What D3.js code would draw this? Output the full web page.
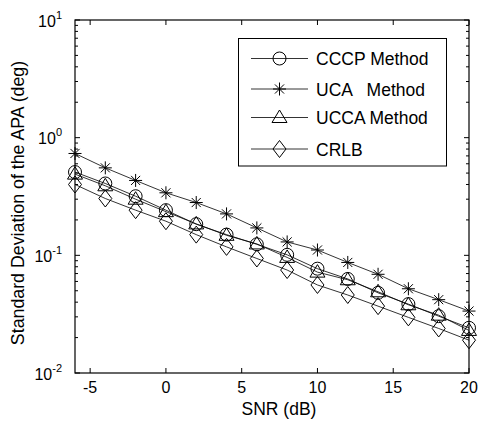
<!DOCTYPE html>
<html>
<head>
<meta charset="utf-8">
<script src="https://cdn.jsdelivr.net/npm/d3@7"></script>
<style>
  body { margin: 0; background: #fff; }
  svg { font-family: Arial, "Liberation Sans", sans-serif; }
</style>
</head>
<body>
<svg id="chart" width="482" height="426"></svg>
<script>
// data
const snr = [-6, -4, -2, 0, 2, 4, 6, 8, 10, 12, 14, 16, 18, 20];
const cccp = [0.51, 0.408, 0.318, 0.242, 0.184, 0.150, 0.124, 0.101, 0.077, 0.063, 0.048, 0.0385, 0.0304, 0.0242];
const uca = [0.734, 0.554, 0.433, 0.34, 0.281, 0.225, 0.171, 0.130, 0.111, 0.087, 0.069, 0.052, 0.042, 0.0336];
const ucca = [0.49, 0.39, 0.30, 0.235, 0.185, 0.148, 0.125, 0.096, 0.072, 0.062, 0.049, 0.038, 0.031, 0.023];
const crlb = [0.40, 0.304, 0.242, 0.195, 0.150, 0.118, 0.094, 0.075, 0.056, 0.046, 0.037, 0.0297, 0.0239, 0.019];
const seriesNames = ["CCCP Method", "UCA   Method", "UCCA Method", "CRLB"];
const markers = ["circle", "star", "triangle", "diamond"];
const xTicks = [-5, 0, 5, 10, 15, 20];
const yTicks = [0.01, 0.1, 1, 10];

const margin = { top: 20, right: 13, bottom: 53, left: 75 };
const W = 482, H = 426;
const svg = d3.select("#chart");

const x = d3.scaleLinear().domain([-6, 20]).range([margin.left, W - margin.right]);
const y = d3.scaleLog().domain([0.01, 10]).range([H - margin.bottom, margin.top]);

const x0 = x.range()[0], x1 = x.range()[1], y0 = y.range()[0], y1 = y.range()[1];

// minor log ticks
const minor = [];
[0.01, 0.1, 1].forEach(d => { for (let k = 2; k <= 9; k++) minor.push(d * k); });

const tk = svg.append("g").attr("stroke", "#000").attr("stroke-width", 1);
xTicks.forEach(v => {
  tk.append("line").attr("x1", x(v)).attr("x2", x(v)).attr("y1", y0).attr("y2", y0 - 5);
  tk.append("line").attr("x1", x(v)).attr("x2", x(v)).attr("y1", y1).attr("y2", y1 + 5);
});
yTicks.forEach(v => {
  tk.append("line").attr("x1", x0).attr("x2", x0 + 5).attr("y1", y(v)).attr("y2", y(v));
  tk.append("line").attr("x1", x1).attr("x2", x1 - 5).attr("y1", y(v)).attr("y2", y(v));
});
minor.forEach(v => {
  tk.append("line").attr("x1", x0).attr("x2", x0 + 3).attr("y1", y(v)).attr("y2", y(v));
  tk.append("line").attr("x1", x1).attr("x2", x1 - 3).attr("y1", y(v)).attr("y2", y(v));
});

// frame
svg.append("rect").attr("x", x0).attr("y", y1).attr("width", x1 - x0).attr("height", y0 - y1)
  .attr("fill", "none").attr("stroke", "#000").attr("stroke-width", 1.2);

// tick labels
svg.append("g").selectAll("text").data(xTicks).join("text")
  .attr("x", d => x(d)).attr("y", y0 + 20)
  .attr("text-anchor", "middle").attr("font-size", 16).text(d => d);

const yl = svg.append("g").selectAll("text").data(yTicks).join("text")
  .attr("x", x0 - 13).attr("y", d => y(d) + 6.5)
  .attr("text-anchor", "end").attr("font-size", 16);
yl.append("tspan").text("10");
yl.append("tspan").attr("dy", -8).attr("font-size", 11).text(d => Math.round(Math.log10(d)));

// axis titles
svg.append("text").attr("x", 279).attr("y", 415).attr("text-anchor", "middle")
  .attr("font-size", 17.5).text("SNR (dB)");
svg.append("text").attr("transform", "translate(24,203) rotate(-90)")
  .attr("text-anchor", "middle").attr("font-size", 17.8)
  .text("Standard Deviation of the APA (deg)");

// markers
function drawMarker(g, type, cx, cy) {
  if (type === "circle") {
    g.append("circle").attr("cx", cx).attr("cy", cy).attr("r", 6.5)
      .attr("fill", "none").attr("stroke", "#000");
  } else if (type === "triangle") {
    g.append("path").attr("d", `M${cx},${cy - 7.5}L${cx + 7.5},${cy + 5}L${cx - 7.5},${cy + 5}Z`)
      .attr("fill", "none").attr("stroke", "#000");
  } else if (type === "diamond") {
    g.append("path").attr("d", `M${cx},${cy - 8.5}L${cx + 6.5},${cy}L${cx},${cy + 8.5}L${cx - 6.5},${cy}Z`)
      .attr("fill", "none").attr("stroke", "#000");
  } else if (type === "star") {
    const r = 6.5;
    g.append("path").attr("d",
      `M${cx},${cy - r}V${cy + r}M${cx - r},${cy}H${cx + r}` +
      `M${cx - r * 0.7},${cy - r * 0.7}L${cx + r * 0.7},${cy + r * 0.7}` +
      `M${cx - r * 0.7},${cy + r * 0.7}L${cx + r * 0.7},${cy - r * 0.7}`)
      .attr("stroke", "#000").attr("stroke-width", 1);
  }
}

const allSeries = [cccp, uca, ucca, crlb];
const line = d3.line().x((d, i) => x(snr[i])).y(d => y(d));
const plot = svg.append("g");
allSeries.forEach((vals, si) => {
  plot.append("path").datum(vals).attr("d", line)
    .attr("fill", "none").attr("stroke", "#000").attr("stroke-width", 0.8);
  vals.forEach((v, i) => drawMarker(plot, markers[si], x(snr[i]), y(v)));
});

// legend
const lg = svg.append("g");
lg.append("rect").attr("x", 238.5).attr("y", 38.5).attr("width", 208).attr("height", 127.5)
  .attr("fill", "#fff").attr("stroke", "#000");
const rowY = [58.5, 89, 117.5, 149];
seriesNames.forEach((name, i) => {
  lg.append("line").attr("x1", 251).attr("x2", 308).attr("y1", rowY[i]).attr("y2", rowY[i])
    .attr("stroke", "#000").attr("stroke-width", 0.8);
  drawMarker(lg, markers[i], 279.5, rowY[i]);
  lg.append("text").attr("x", 316).attr("y", rowY[i] + 6.5).attr("font-size", 17.5)
    .attr("xml:space", "preserve").style("white-space", "pre").text(name);
});
</script>
</body>
</html>
